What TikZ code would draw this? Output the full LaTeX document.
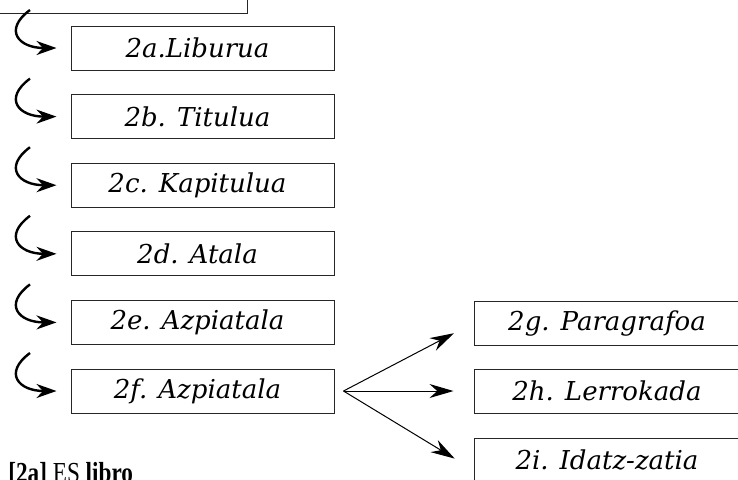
\documentclass[tikz,border=0pt]{standalone}
\usepackage{fontspec}
\setmainfont{Liberation Serif}
\newfontfamily\boxfont{DejaVu Serif}
\usetikzlibrary{arrows.meta}
\tikzset{
  box/.style={draw=black!85, line width=0.5pt, minimum width=131.5pt, minimum height=22pt,
    inner sep=0pt, font=\boxfont\itshape\fontsize{13}{15}\selectfont, execute at end node={\kern5pt}},
  rbox/.style={box, minimum width=134pt, execute at end node={\kern-4pt}},
  curv/.style={line width=1.2pt, -{Stealth[length=10pt,width=7pt]}, shorten >=7pt},
  fan/.style={line width=0.5pt, -{Stealth[length=12pt,width=7pt]}, shorten >=11pt}
}
\begin{document}
\begin{tikzpicture}[x=0.5pt,y=-0.5pt]
\useasboundingbox (0,0) rectangle (738,479);
\clip (0,0) rectangle (738,479);
\node[box, minimum width=148.5pt] (top) at (98.5,-9) {};
\node[box] (a) at (202.5,48) {2a.Liburua};
\node[box] (b) at (202.5,116.6) {2b. Titulua};
\node[box] (c) at (202.5,185.2) {2c. Kapitulua};
\node[box] (d) at (202.5,253.8) {2d. Atala};
\node[box] (e) at (202.5,322.4) {2e. Azpiatala};
\node[box] (f) at (202.5,391) {2f. Azpiatala};
\node[rbox] (g) at (608,323) {2g. Paragrafoa};
\node[rbox] (h) at (608,391) {2h. Lerrokada};
\node[rbox] (i) at (608,460) {2i. Idatz-zatia};
\foreach \n/\y in {a/10,b/78.6,c/147.2,d/215.8,e/284.4,f/353}{
  \coordinate (s\n) at (30,\y);
  \draw[curv] (s\n) .. controls +(-27,20) and +(-52,0) .. (\n.west);
}
\coordinate (fs) at ([xshift=4.5pt]f.east);
\draw[fan] (fs) -- (g.west);
\draw[fan, shorten >=10pt] (fs) -- (h.west);
\draw[fan] (fs) -- ([yshift=-5pt]i.west);
\node[anchor=base west, inner sep=0pt, font=\fontsize{14.5}{17}\selectfont] (cap) at (8,482) {\scalebox{0.8}[1]{\textbf{[2a]} ES \textbf{libro}}};
\end{tikzpicture}
\end{document}
